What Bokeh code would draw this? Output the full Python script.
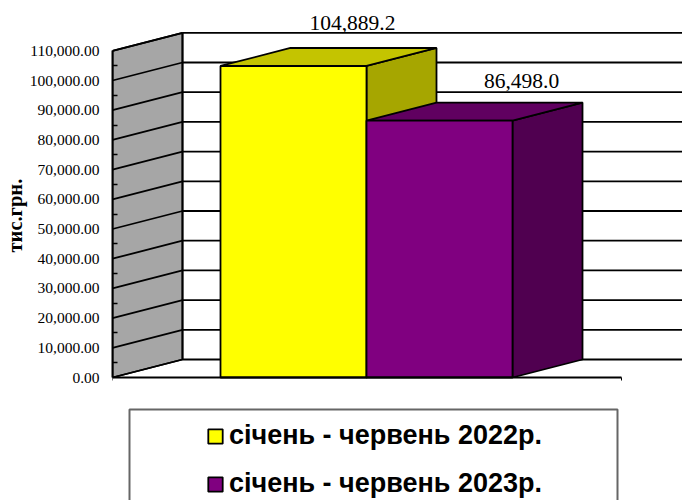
from bokeh.plotting import figure
from bokeh.embed import file_html
from bokeh.resources import INLINE
from bokeh.models import (Range1d, FixedTicker, NumeralTickFormatter, LinearAxis,
                          Legend, LegendItem, BoxAnnotation, Title)
from bokeh.core.properties import value

series = ["січень - червень 2022р.", "січень - червень 2023р."]
values = [104889.2, 86498.0]
labels = ["104,889.2", "86,498.0"]
ticks = [0, 10000, 20000, 30000, 40000, 50000, 60000, 70000, 80000, 90000, 100000, 110000]
y_title = "тис.грн."

front = ["#FFFF00", "#800080"]
top = ["#C4C400", "#600060"]
side = ["#A6A600", "#500050"]

PX = 146.0            # px per category
PY = 29.7 / 10000.0   # px per value unit
DX = 70.0 / PX        # depth in x units
DY = 18.0 / PY        # depth in y units
X0 = -108.0 / PX      # front of the wall
XEND = 462.0 / PX
YMAX = 377.0 / PY
YMIN = -123.0 / PY
AXIS_END = 401.0 / PX
LW = 1.8

p = figure(width=682, height=500, output_backend="svg", toolbar_location=None,
           x_range=Range1d(X0, XEND), y_range=Range1d(YMIN, YMAX),
           min_border_left=112, min_border_right=0, min_border_top=0, min_border_bottom=0,
           outline_line_color=None, x_axis_location=None, y_axis_location=None)
p.xgrid.visible = False
p.ygrid.visible = False
p.background_fill_color = "white"

xb = X0 + DX
p.patch([X0, xb, xb, X0], [0, DY, ticks[-1] + DY, ticks[-1]], fill_color="#A6A6A6", line_color="black", line_width=LW)
p.multi_line([[xb, XEND] for _ in ticks], [[t + DY, t + DY] for t in ticks], line_color="black", line_width=LW)
p.multi_line([[X0, xb] for _ in ticks], [[t, t + DY] for t in ticks], line_color="black", line_width=LW)
p.line([xb, xb], [DY, ticks[-1] + DY], line_color="black", line_width=LW)

renderers = []
for i, v in enumerate(values):
    l, r = i, i + 1
    p.patch([r, r + DX, r + DX, r], [0, DY, v + DY, v], fill_color=side[i], line_color="black", line_width=LW)
    p.patch([l, l + DX, r + DX, r], [v, v + DY, v + DY, v], fill_color=top[i], line_color="black", line_width=LW)
    renderers.append(p.quad(left=[l], right=[r], bottom=[0], top=[v], fill_color=front[i],
                            line_color="black", line_width=LW))

label_x = [0.904, 2.062]
label_dy = [24.5 / PY + DY, 21.5 / PY + DY]
p.text(label_x, [v + d for v, d in zip(values, label_dy)], text=labels, text_align="center",
       text_baseline="alphabetic", text_font=value("Liberation Serif"), text_font_size="21.5px", text_color="black")

ya = LinearAxis(bounds=(0, ticks[-1]),
                ticker=FixedTicker(ticks=ticks, minor_ticks=[t + 5000 for t in ticks[:-1]]),
                formatter=NumeralTickFormatter(format="0,0.00"),
                major_tick_in=0, major_tick_out=0, minor_tick_in=5, minor_tick_out=0,
                minor_tick_line_color="black", minor_tick_line_width=1.5,
                axis_line_color="black", axis_line_width=2,
                major_label_text_font="Liberation Serif", major_label_text_font_size="15.5px",
                major_label_text_color="black", major_label_standoff=13)
p.add_layout(ya, "left")

xa = LinearAxis(fixed_location=0, bounds=(X0, AXIS_END), ticker=FixedTicker(ticks=[X0, AXIS_END]),
                major_tick_in=0, major_tick_out=3, minor_tick_line_color=None,
                major_tick_line_color="black", major_tick_line_width=1,
                axis_line_color="black", axis_line_width=2,
                major_label_overrides={X0: "", AXIS_END: ""})
p.add_layout(xa, "below")

t = Title(text=y_title, align="left", offset=248, text_font="Liberation Serif", text_font_style="bold",
          text_font_size="20.5px", text_color="black", standoff=2)
p.add_layout(t, "left")

box = BoxAnnotation(left=129, right=617, top=409, bottom=510,
                    left_units="canvas", right_units="canvas", top_units="canvas", bottom_units="canvas",
                    fill_color="white", fill_alpha=1, line_color="#666666", line_alpha=1, line_width=2, level="overlay")
p.add_layout(box)

legend = Legend(items=[LegendItem(label=value(s), renderers=[r]) for s, r in zip(series, renderers)],
                location=(94, 1), orientation="vertical", padding=0, margin=0, spacing=17,
                glyph_width=18, glyph_height=18, label_standoff=5, border_line_color=None,
                background_fill_alpha=0, label_text_font="Liberation Sans", label_text_font_style="bold",
                label_text_font_size="27px", label_text_color="black", label_height=24, level="overlay")
p.add_layout(legend, "center")

open("out.html", "w").write(file_html(p, INLINE))
